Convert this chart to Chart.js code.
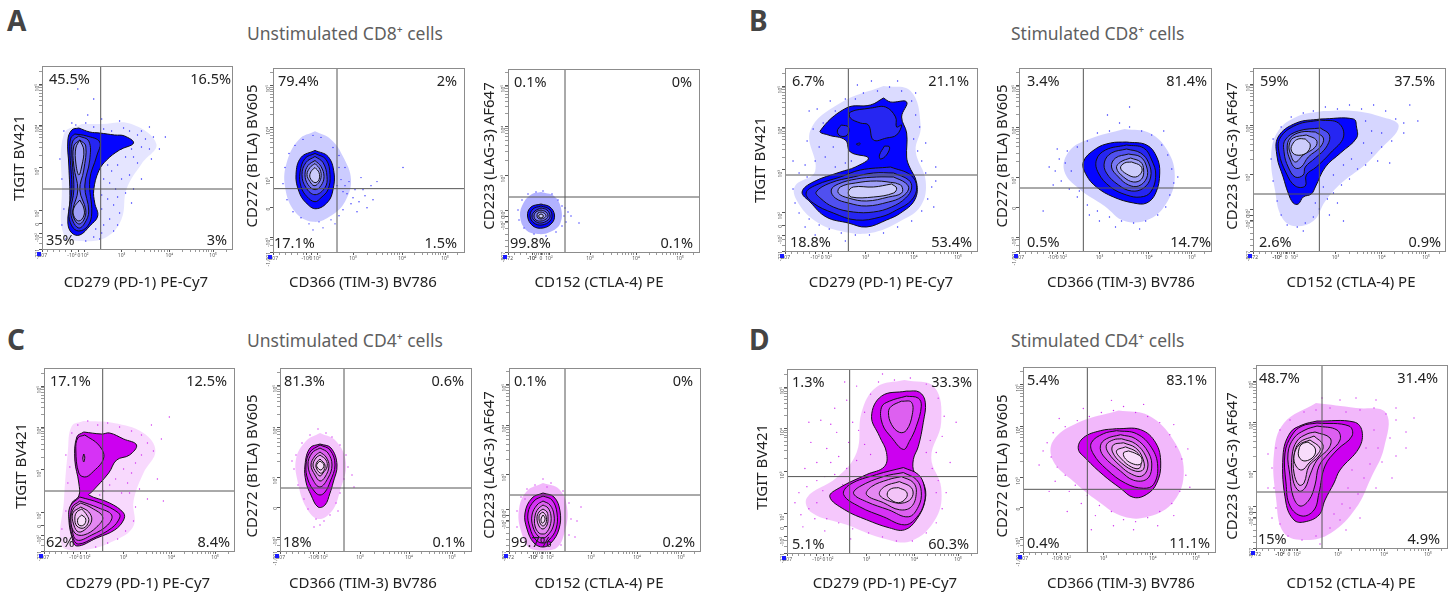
<!DOCTYPE html>
<html>
<head>
<meta charset="utf-8">
<title>Checkpoint receptor flow plots</title>
<script src="https://cdn.jsdelivr.net/npm/chart.js@4"></script>
<style>
  body { margin: 0; background: #fff; font-family: "Noto Sans", sans-serif; }
  canvas { position: absolute; }
  .letter { position: absolute; font-size: 28px; font-weight: 700; color: #444; line-height: 28px; }
  .group { position: absolute; font-size: 17.5px; color: #5f5f5f; line-height: 22px; white-space: nowrap; }
</style>
</head>
<body>
<div class="letter" style="left:7px;top:6px">A</div>
<div class="letter" style="left:749px;top:6px">B</div>
<div class="letter" style="left:7px;top:325px">C</div>
<div class="letter" style="left:749px;top:325px">D</div>
<div class="group" style="left:247px;top:22px">Unstimulated CD8⁺ cells</div>
<div class="group" style="left:1011px;top:22px">Stimulated CD8⁺ cells</div>
<div class="group" style="left:247px;top:329px">Unstimulated CD4⁺ cells</div>
<div class="group" style="left:1011px;top:329px">Stimulated CD4⁺ cells</div>
<script>
// All plot values are display channels (x 0-191, y 0-183),
// flat lists of x,y,x,y. Contours go outermost level first.
const X_MAX = 191;
const Y_MAX = 183;

const a1Contours = [
  [[37,121,48,117,58,116,73,114,83,113,92,106,78,99,65,89,57,78,52,59,53,46,56,33,48,23,38,14,30,16,26,26,28,49,27,83,26,109,30,119]],
  [[33,115,45,113,58,107,55,93,48,69,50,36,46,23,37,18,30,23,27,36,30,59,28,99,29,111]],
  [[37,113,47,108,48,89,43,63,47,38,43,26,37,21,31,28,29,39,32,59,30,96,31,108]],
  [[38,109,44,103,42,79,38,59,44,39,42,29,37,25,32,31,31,39,36,59,32,83,32,103]],
  [[38,109,42,99,40,83,37,74,34,86,34,101], [38,49,42,41,42,33,37,28,32,33,32,41]]
];
const a1Cloud = [40,125,60,125,90,125,115,105,100,85,85,60,80,30,65,12,40,8,22,14,20,60,22,115];
const a1Dots = [62,120,70,118,82,121,88,118,96,114,104,110,100,102,108,100,112,112,92,92,84,92,96,86,76,84,70,78,88,74,80,70,62,70,68,66,74,60,84,56,60,54,66,50,72,44,60,40,78,36,68,30,62,24,72,18,60,16,54,20,92,60,100,70,110,90,118,100,124,112,34,124,44,126,52,122,30,126,22,118,18,90,20,70,22,40,20,24,24,10,44,8,52,12,58,10,76,24,90,46,76,52,66,84,60,84,80,100,72,96,90,100,86,108,100,118,108,122,78,128,60,130,46,134,36,160,52,150];

const a2Contours = [
  [[42,101,55,95,61,79,60,62,55,50,43,43,33,49,26,60,23,77,28,94]],
  [[42,98,53,92,57,77,55,62,48,54,42,50,34,55,28,65,27,79,32,93]],
  [[42,95,50,89,54,75,52,64,42,57,33,64,29,77,33,89]],
  [[42,91,48,85,51,75,48,66,42,62,35,67,32,77,35,86]],
  [[42,88,47,82,48,74,45,68,41,66,37,70,34,77,37,84]],
  [[42,84,46,79,46,72,42,69,37,74,38,80]]
];
const a2Cloud = [42,120,58,112,70,95,78,72,72,50,58,36,40,30,22,40,12,65,14,90,26,112];
const a2Dots = [40,116,48,114,30,112,60,104,66,96,72,84,76,70,82,62,88,74,92,56,78,48,70,42,84,40,66,36,58,32,46,30,36,28,28,34,20,40,14,52,10,68,12,84,16,98,22,106,70,60,68,72,74,58,98,66,100,52,94,44,104,70,66,84,62,28,50,24,40,22,130,84,64,66,72,66,80,54,86,50,90,62];

const a3Contours = [
  [[33,48,42,45,46.5,37,44,29,35,24,25,26,19.5,36,23,45]],
  [[33,46,41,43,44,37,42,31,34,27,26,29,22,36,25,43]],
  [[33,44,39,42,42,36,40,32,33,29,27,31,24,36,27,41]],
  [[33,42,38,40,40,36,38,33,33,31,28,32,26,36,28,40]],
  [[33,40,36,39,38,36,36,34,33,33,30,34,29,36,30,39]],
  [[33,38,35,37,35,35,33,34,31,35,31,37]]
];
const a3Cloud = [33,60,46,56,53,44,52,28,42,20,30,18,18,22,12,36,16,50,24,58];
const a3Dots = [35,61,28,60,44,58,50,52,54,46,56,36,54,26,48,20,38,16,26,18,16,24,11,32,10,42,14,52,20,58,60,40,63,36,71,29,58,30,57,44];

const b1Contours = [
  [[98,153,105,149,121,149,116,134,121,118,121,94,123,86,131,68,129,51,115,38,101,31,81,24,63,28,41,34,25,49,17,59,28,69,55,79,70,84,83,93,65,99,60,111,43,116,35,120,61,143,85,146]],
  [[85,143,100,144,110,134,111,124,116,126,111,116,101,113,88,111,83,126,75,128,65,133,65,139],
   [56,126,63,124,62,116,55,115,52,120], [74,108,75,107,73,106,71,107], [99,105,104,104,101,96,95,92,94,96],
   [105,84,125,76,131,64,126,51,111,41,95,34,71,31,48,38,28,48,21,58,31,66,55,74,75,81]],
  [[108,78,123,71,126,63,120,53,106,44,88,39,68,39,48,44,35,53,31,59,45,68,68,74,88,78]],
  [[108,74,120,68,123,62,116,54,103,49,81,45,63,48,50,53,46,61,53,67,71,72,91,74]],
  [[110,68,116,65,116,58,103,54,81,50,63,53,53,58,55,64,70,68,91,70]],
  [[106,67,111,63,108,58,88,54,66,54,63,59,68,64,88,64]]
];
const b1Cloud = [98,165,125,160,135,125,130,100,140,70,135,45,115,30,85,18,55,20,30,30,12,50,10,65,30,80,25,120,55,148];
const b1Dots = [45,150,60,152,50,140,38,128,28,122,22,110,34,104,48,104,40,94,30,90,20,86,14,78,22,74,8,62,10,48,14,38,24,32,34,26,44,22,56,18,70,16,84,16,98,18,112,24,126,30,136,40,142,52,146,64,140,78,136,90,132,100,128,112,134,124,130,136,126,150,116,160,104,164,92,160,78,158,70,152,112,170,130,158,150,70,148,44,20,24,30,16,60,10,60,88,50,84,66,90,140,108,150,84,24,140,32,142,8,90,72,166,86,170];

const b2Contours = [
  [[107,109,127,106,137,94,140,78,136,58,127,48,114,48,94,54,77,64,67,76,64,89,76,102,91,108]],
  [[107,106,124,103,132,91,136,76,131,59,121,54,107,56,91,64,79,78,77,91,86,101]],
  [[107,102,121,98,129,88,131,74,124,63,112,60,99,66,87,78,85,89,92,98]],
  [[109,97,121,94,127,84,127,73,119,65,109,66,99,74,92,84,96,93]],
  [[111,93,121,89,124,81,122,72,114,69,104,74,97,83,101,89]],
  [[112,89,121,85,122,79,116,74,107,77,101,83,105,88]]
];
const b2Cloud = [105,122,130,118,148,100,155,75,148,50,130,32,105,30,85,45,60,62,45,80,50,100,70,112];
const b2Dots = [100,128,110,124,122,120,132,116,90,120,78,118,68,110,58,104,48,100,40,92,36,80,42,70,50,62,58,54,68,46,78,40,90,34,102,30,114,28,126,30,138,36,146,44,150,56,154,68,152,82,148,96,142,106,38,102,30,84,34,66,80,30,96,24,120,22,110,144,88,136,24,40,70,36,158,74,144,120,52,80,46,88,60,60];

const b3Contours = [
  [[67,132,100,132,103,124,103,113,87,98,72,84,62,64,58,57,50,54,45,47,40,48,35,58,30,74,24,94,25,114,43,128]],
  [[67,131,85,128,90,114,77,98,63,84,53,76,52,65,42,65,33,78,26,98,27,113,43,126]],
  [[67,123,76,116,73,104,62,93,52,84,50,76,42,74,35,84,31,98,32,111,45,120]],
  [[62,119,70,113,67,104,55,94,48,84,42,83,37,91,34,103,37,113,48,119]],
  [[53,116,63,111,62,104,50,96,42,89,37,98,36,106,40,113]],
  [[52,112,57,106,53,98,43,96,38,101,40,108,45,112]]
];
const b3Cloud = [70,140,100,140,125,135,145,125,125,100,110,85,88,68,72,50,60,30,40,25,28,35,22,60,18,95,25,120,45,135];
const b3Dots = [60,140,72,144,84,142,96,146,108,142,120,146,132,140,142,132,156,146,164,130,150,118,138,110,128,104,118,98,112,86,104,82,96,72,88,66,80,58,74,52,66,42,60,34,52,28,44,24,34,26,28,36,24,50,20,70,18,92,20,112,28,124,38,134,50,138,118,120,112,130,128,118,98,92,90,86,80,76,70,64,62,48,50,20,150,128,110,108,124,90,136,88,76,36,84,48,90,30];

const c1Contours = [
  [[40,119,58,117,66,118,80,112,93,106,86,96,73,91,65,78,48,59,45,56,66,48,80,38,80,31,71,21,53,13,33,5,28,14,25,34,28,48,35,55,35,68,31,91,33,114]],
  [[41,116,55,106,60,93,48,78,41,74,35,78,32,101,34,113], [36,54,56,48,75,38,76,33,68,23,50,13,35,7,30,11,26,28,26,44]],
  [[40,97,41,94,40,89,39,93], [36,50,55,43,68,36,64,26,48,16,33,11,28,24,28,43]],
  [[37,48,48,43,59,34,53,24,40,16,31,18,27,31,30,43]],
  [[37,44,45,39,48,31,43,23,35,19,30,26,29,38]],
  [[38,42,43,36,45,30,40,23,33,25,31,33,33,39]],
  [[38,36,42,32,40,26,35,26,34,32]]
];
const c1Cloud = [40,130,70,128,100,118,112,100,100,78,90,50,90,25,70,10,40,1,18,5,20,50,24,100,28,125];
const c1Dots = [34,126,44,130,54,126,64,128,76,124,88,120,98,116,104,108,110,100,118,112,126,134,108,126,98,96,92,88,88,78,80,82,72,72,66,66,58,70,56,56,78,58,86,58,96,62,104,52,92,44,90,30,82,20,74,12,64,8,52,4,22,40,18,22,24,68,26,84,22,96,28,118,84,68,60,60,114,72,120,50];

const c2Contours = [
  [[40,107,51,103,57,86,53,68,50,58,45,46,38,44,31,56,26,69,25,86,30,103]],
  [[40,106,50,101,55,86,50,69,45,59,40,56,35,59,28,71,26,86,30,99]],
  [[40,103,48,98,52,86,48,73,40,64,33,71,28,86,32,98]],
  [[40,99,46,94,49,85,45,74,40,70,35,76,31,86,35,95]],
  [[40,96,46,91,47,84,43,78,40,75,36,79,33,86,36,93]],
  [[40,92,45,86,43,79,40,78,36,84,37,89]],
  [[40,90,44,86,41,81,37,84,37,87]]
];
const c2Cloud = [40,118,56,110,66,88,60,60,52,40,38,32,26,44,18,68,16,92,26,110];
const c2Dots = [38,122,46,118,30,116,22,108,16,96,14,82,18,66,24,52,28,42,36,32,44,30,50,36,56,48,60,58,64,72,68,84,66,96,60,106,52,114,72,76,74,64,12,90,40,26,34,24,58,40];

const c3Contours = [
  [[34,58,45,54,51,40,50,22,42,8,34,4,25,8,18,22,16,38,23,53]],
  [[34,55,43,51,48,38,47,22,40,11,34,8,27,11,21,23,19,38,25,50]],
  [[34,50,41,46,45,36,44,24,38,15,34,13,29,15,24,24,23,36,28,46]],
  [[34,46,39,43,42,35,41,25,37,18,34,17,30,18,26,25,26,35,29,42]],
  [[34,42,38,39,39,33,38,26,34,22,30,25,28,33,30,39]],
  [[34,39,37,35,37,28,34,25,31,28,30,34,31,37]],
  [[34,36,36,33,35,29,33,28,32,32]]
];
const c3Cloud = [34,68,50,62,58,44,56,20,46,2,22,2,12,20,10,42,18,60];
const c3Dots = [34,72,42,68,26,66,18,62,54,60,60,48,62,32,60,16,52,6,12,54,8,40,8,24,12,10,68,30,72,44,66,14,38,64,16,52];

const d1Contours = [
  [[120,161,133,160,139,150,137,130,132,106,127,93,128,80,137,70,139,53,130,33,118,23,103,25,80,33,58,43,43,56,53,65,80,78,98,86,100,100,93,116,85,136,95,156]],
  [[120,156,132,154,135,146,130,126,123,111,117,103,105,115,96,128,95,145,103,151],
   [117,85,132,78,138,66,138,50,130,35,118,28,97,36,73,46,57,58,63,68,90,78]],
  [[115,151,125,150,126,138,120,122,113,120,105,128,102,140,105,146],
   [117,80,130,73,135,61,132,46,122,36,102,43,80,51,67,59,73,66,97,76]],
  [[115,76,127,70,130,60,125,46,113,43,97,50,80,58,85,66,102,73]],
  [[113,71,125,65,126,56,118,50,105,51,93,58,98,66]],
  [[112,65,120,61,120,55,112,50,102,55,101,60,105,64]]
];
const d1Cloud = [118,172,148,165,155,130,145,95,155,65,150,35,125,12,95,15,60,28,25,40,20,55,50,75,70,100,75,140,90,165];
const d1Dots = [30,50,22,44,14,38,12,60,20,66,30,72,36,62,28,34,40,34,52,30,66,24,82,20,96,16,110,12,126,12,140,20,150,30,156,44,160,60,152,72,146,84,150,100,156,116,158,136,152,154,140,168,124,174,108,172,92,170,84,158,78,140,72,122,78,108,84,98,70,92,60,84,48,78,62,110,50,120,40,104,30,90,24,110,34,132,48,144,60,152,70,166,18,84,52,96,66,130,140,100,144,112,150,60,164,90,170,130,8,50,16,26,38,22,64,14,38,76,44,90,56,68,44,128,22,130,58,170,96,178];

const d2Contours = [
  [[93,122,117,121,132,108,137,88,133,68,123,57,110,54,97,63,80,76,63,92,55,102,60,113,77,120]],
  [[93,120,113,117,128,103,134,85,130,67,120,63,102,68,83,82,70,97,68,108,80,117]],
  [[97,116,112,112,125,98,128,83,123,72,110,71,97,80,80,95,77,105,83,112]],
  [[98,112,112,107,122,95,124,83,118,75,108,77,97,85,85,98,83,106,90,111]],
  [[100,108,112,103,119,93,120,82,112,80,98,88,89,99,90,106]],
  [[102,104,113,99,117,92,116,83,108,84,98,92,93,100]],
  [[105,100,113,97,118,93,117,87,110,87,102,92,100,98]]
];
const d2Cloud = [95,140,125,135,150,110,160,80,150,50,125,35,100,35,75,50,50,70,30,90,30,110,55,128];
const d2Dots = [90,140,100,144,112,138,124,134,136,128,146,116,152,104,158,92,162,76,156,60,148,48,136,40,124,34,112,30,100,32,88,40,76,46,64,56,52,66,42,76,34,84,28,94,24,108,30,118,42,124,54,130,66,134,78,138,20,100,16,86,32,70,46,60,58,48,72,36,90,26,110,22,134,26,150,36,166,64,164,102,150,126,120,146,88,150,60,142,36,132,26,60,44,40,68,22];

const d3Contours = [
  [[61,127,98,126,106,117,103,100,84,78,78,65,69,48,63,33,48,26,38,28,30,45,27,92,34,115,46,123]],
  [[61,125,93,122,96,112,81,98,69,82,63,55,58,38,46,32,34,42,30,65,29,95,36,113,46,122]],
  [[61,122,81,118,84,108,73,95,63,82,59,63,53,48,44,42,37,52,34,72,32,95,38,110,49,118]],
  [[59,116,74,110,73,100,61,88,54,73,49,60,43,57,37,68,36,92,41,107,51,114]],
  [[58,112,67,103,63,92,53,82,48,65,43,63,38,75,38,92,43,105]],
  [[54,108,64,100,61,93,53,85,46,78,40,82,38,92,43,103]],
  [[52,106,59,100,58,92,49,87,43,91,43,99,46,104]]
];
const d3Cloud = [60,145,100,140,130,135,128,100,115,70,100,40,75,15,50,8,28,15,20,50,18,95,28,125];
const d3Dots = [60,138,74,140,90,136,104,138,118,140,130,134,140,128,150,116,134,110,122,100,114,84,108,70,102,54,94,40,84,28,74,20,60,12,46,8,32,12,24,24,20,40,18,60,16,80,20,100,24,118,34,128,48,136,66,150,84,148,100,150,120,148,140,140,118,118,126,86,140,92,120,60,104,30,90,18,64,4,136,70,150,100,158,130,92,60,86,44,78,34,110,100,96,78,16,30,12,60,12,94];

// Quadrant percentages: top left, top right, bottom left, bottom right
const a1Quads = ["45.5%", "16.5%", "35%", "3%"];
const a2Quads = ["79.4%", "2%", "17.1%", "1.5%"];
const a3Quads = ["0.1%", "0%", "99.8%", "0.1%"];
const b1Quads = ["6.7%", "21.1%", "18.8%", "53.4%"];
const b2Quads = ["3.4%", "81.4%", "0.5%", "14.7%"];
const b3Quads = ["59%", "37.5%", "2.6%", "0.9%"];
const c1Quads = ["17.1%", "12.5%", "62%", "8.4%"];
const c2Quads = ["81.3%", "0.6%", "18%", "0.1%"];
const c3Quads = ["0.1%", "0%", "99.7%", "0.2%"];
const d1Quads = ["1.3%", "33.3%", "5.1%", "60.3%"];
const d2Quads = ["5.4%", "83.1%", "0.4%", "11.1%"];
const d3Quads = ["48.7%", "31.4%", "15%", "4.9%"];

// Axis definitions: channel of each labelled tick, then the labels
const pd1Ticks = [0, 30, 37, 43, 80, 128, 172];
const pd1Labels = ["-807", "-10²", "0", "10²", "10³", "10⁴", "10⁵"];
const tim3Ticks = [0, 33, 38, 44, 80, 129, 172];
const tim3Labels = ["-807", "-10²", "0", "10²", "10³", "10⁴", "10⁵"];
const ctla4Ticks = [0, 24, 33, 41, 82, 128, 172];
const ctla4Labels = ["-472", "-10²", "0", "10²", "10³", "10⁴", "10⁵"];
const tigitTicks = [0, 16, 26, 39, 81, 124, 165];
const tigitLabels = ["-221", "-10²", "0", "10²", "10³", "10⁴", "10⁵"];
const btlaTicks = [0, 14, 44, 74, 124, 166];
const btlaLabels = ["-1,001", "-10³", "0", "10³", "10⁴", "10⁵"];
const lag3Ticks = [0, 31, 36, 42, 77, 126, 167];
const lag3Labels = ["-807", "-10²", "0", "10²", "10³", "10⁴", "10⁵"];

const BLUE = {
  levels: ["#0505ff", "#2626f2", "#5050f0", "#7878f2", "#a0a0f8", "#cdcdfb", "#dcdcfd"],
  dot: "#2a2aff",
  cloud: "0,0,255"
};
const MAGENTA = {
  levels: ["#cc00f0", "#d633f5", "#dd60f0", "#e488f2", "#eda8f5", "#f3c4f8", "#f8dcfb"],
  dot: "#d030f0",
  cloud: "210,0,240"
};

const PD1 = { ticks: pd1Ticks, labels: pd1Labels, title: "CD279 (PD-1) PE-Cy7" };
const TIM3 = { ticks: tim3Ticks, labels: tim3Labels, title: "CD366 (TIM-3) BV786" };
const CTLA4 = { ticks: ctla4Ticks, labels: ctla4Labels, title: "CD152 (CTLA-4) PE", dense: true };
const TIGIT = { ticks: tigitTicks, labels: tigitLabels, title: "TIGIT BV421" };
const BTLA = { ticks: btlaTicks, labels: btlaLabels, title: "CD272 (BTLA) BV605" };
const LAG3 = { ticks: lag3Ticks, labels: lag3Labels, title: "CD223 (LAG-3) AF647" };

// box: plot left, top, width, height on the page. inset: gap of each percentage from its side.
// xTitle: centre x, centre y of x title. yTitle: centre x, centre y of y title.
const panels = [
  { contours: a1Contours, cloud: a1Cloud, cloudAlpha: 0.1, dots: a1Dots, quads: a1Quads, x: PD1, y: TIGIT, gate: [59, 60], colors: BLUE, box: [42, 66, 190, 183], inset: [7, 1, 4, 5], xTitle: [136, 283], yTitle: [20, 158] },
  { contours: a2Contours, cloud: a2Cloud, cloudAlpha: 0.2, dots: a2Dots, quads: a2Quads, x: TIM3, y: BTLA, gate: [64, 63], colors: BLUE, box: [273, 68, 191, 184], inset: [5, 7, 1, 7], xTitle: [363, 283], yTitle: [253, 156] },
  { contours: a3Contours, cloud: a3Cloud, cloudAlpha: 0.3, dots: a3Dots, quads: a3Quads, x: CTLA4, y: LAG3, gate: [57, 55], colors: BLUE, box: [508, 69, 191, 183], inset: [6, 7, 2, 6], xTitle: [599, 283], yTitle: [490, 156] },
  { contours: b1Contours, cloud: b1Cloud, cloudAlpha: 0.14, dots: b1Dots, quads: b1Quads, x: PD1, y: TIGIT, gate: [63, 76], colors: BLUE, box: [785, 68, 192, 183], inset: [7, 8, 5, 5], xTitle: [881, 283], yTitle: [761, 160] },
  { contours: b2Contours, cloud: b2Cloud, cloudAlpha: 0.18, dots: b2Dots, quads: b2Quads, x: TIM3, y: BTLA, gate: [64, 63], colors: BLUE, box: [1019, 68, 192, 183], inset: [8, 4, 8, 0], xTitle: [1121, 283], yTitle: [1003, 156] },
  { contours: b3Contours, cloud: b3Cloud, cloudAlpha: 0.16, dots: b3Dots, quads: b3Quads, x: CTLA4, y: LAG3, gate: [66, 57], colors: BLUE, box: [1253, 68, 192, 183], inset: [7, 10, 6, 4], xTitle: [1351, 283], yTitle: [1233, 156] },
  { contours: c1Contours, cloud: c1Cloud, cloudAlpha: 0.15, dots: c1Dots, quads: c1Quads, x: PD1, y: TIGIT, gate: [59, 60], colors: MAGENTA, box: [44, 368, 190, 183], inset: [6, 7, 2, 4], xTitle: [138, 584], yTitle: [22, 466] },
  { contours: c2Contours, cloud: c2Cloud, cloudAlpha: 0.22, dots: c2Dots, quads: c2Quads, x: TIM3, y: BTLA, gate: [64, 63], colors: MAGENTA, box: [280, 368, 191, 183], inset: [4, 7, 3, 6], xTitle: [363, 584], yTitle: [253, 466] },
  { contours: c3Contours, cloud: c3Cloud, cloudAlpha: 0.28, dots: c3Dots, quads: c3Quads, x: CTLA4, y: LAG3, gate: [56, 56], colors: MAGENTA, box: [509, 368, 191, 183], inset: [5, 7, 2, 5], xTitle: [599, 584], yTitle: [490, 465] },
  { contours: d1Contours, cloud: d1Cloud, cloudAlpha: 0.22, dots: d1Dots, quads: d1Quads, x: PD1, y: TIGIT, gate: [63, 76], colors: MAGENTA, box: [787, 369, 190, 184], inset: [5, 5, 5, 8], xTitle: [885, 584], yTitle: [763, 467] },
  { contours: d2Contours, cloud: d2Cloud, cloudAlpha: 0.28, dots: d2Dots, quads: d2Quads, x: TIM3, y: BTLA, gate: [64, 62], colors: MAGENTA, box: [1023, 367, 192, 185], inset: [4, 8, 4, 5], xTitle: [1121, 584], yTitle: [1003, 466] },
  { contours: d3Contours, cloud: d3Cloud, cloudAlpha: 0.28, dots: d3Dots, quads: d3Quads, x: CTLA4, y: LAG3, gate: [66, 56], colors: MAGENTA, box: [1256, 365, 191, 183], inset: [3, 9, 2, 7], xTitle: [1351, 584], yTitle: [1233, 466] }
];

const PAD_LEFT = 40;
const PAD_TOP = 4;
const PAD_RIGHT = 4;
const PAD_BOTTOM = 46;

function toPoints(flat, close) {
  const points = [];
  for (let i = 0; i < flat.length; i += 2) {
    points.push({ x: flat[i], y: flat[i + 1] });
  }
  if (close) {
    points.push({ x: flat[0], y: flat[1] });
  }
  return points;
}

// labelled ticks plus the small unlabelled marks between them
function allTicks(axis, max) {
  const values = axis.ticks.slice();
  const tenSquaredOrZero = axis.ticks[1];
  for (let v = 6; v < tenSquaredOrZero; v += 6) {
    values.push(v);
  }
  if (axis.dense) {
    for (let v = axis.ticks[1]; v < axis.ticks[3]; v += 2) {
      values.push(v);
    }
  }
  const n = axis.ticks.length;
  const decade = axis.ticks[n - 1] - axis.ticks[n - 2];
  const starts = axis.ticks.slice(n - 3);
  starts.forEach((start, i) => {
    const width = i < 2 ? starts[i + 1] - start : decade;
    for (let k = 2; k < 10; k++) {
      const v = start + Math.log10(k) * width;
      if (v < max) values.push(v);
    }
  });
  return values;
}

function axisOptions(axis, max, isY) {
  const labelAt = new Map(axis.ticks.map((v, i) => [v, axis.labels[i]]));
  return {
    type: "linear",
    min: 0,
    max: max,
    afterBuildTicks: scale => {
      scale.ticks = allTicks(axis, max).map(value => ({ value }));
    },
    afterFit: scale => {
      if (isY) scale.width = PAD_LEFT;
      else scale.height = PAD_BOTTOM;
    },
    border: { display: false },
    grid: {
      drawOnChartArea: false,
      tickLength: 3,
      tickColor: "#555",
      tickWidth: ctx => (labelAt.has(ctx.tick.value) ? 1 : 0.6)
    },
    ticks: {
      autoSkip: false,
      minRotation: isY ? 90 : 0,
      maxRotation: isY ? 90 : 0,
      padding: 1,
      color: "#555",
      font: { size: 5, family: "Noto Sans" },
      callback: value => labelAt.get(value) || ""
    }
  };
}

function buildDatasets(panel) {
  const datasets = [
    {
      data: toPoints(panel.cloud, true),
      showLine: true,
      tension: 0.4,
      borderWidth: 0,
      pointRadius: 0,
      fill: "shape",
      backgroundColor: "rgba(" + panel.colors.cloud + "," + panel.cloudAlpha + ")",
      order: 300
    },
    {
      data: toPoints(panel.dots),
      pointRadius: 0.7,
      pointBorderWidth: 0,
      pointBackgroundColor: panel.colors.dot,
      order: 200
    }
  ];
  panel.contours.forEach((level, i) => {
    level.forEach(shape => {
      datasets.push({
        data: toPoints(shape, true),
        showLine: true,
        tension: 0.4,
        borderColor: "#111",
        borderWidth: 1,
        pointRadius: 0,
        fill: "shape",
        backgroundColor: panel.colors.levels[i],
        order: 100 - i
      });
    });
  });
  // quadrant gates
  [[panel.gate[0], 0, panel.gate[0], Y_MAX], [0, panel.gate[1], X_MAX, panel.gate[1]]].forEach(line => {
    datasets.push({
      data: toPoints(line),
      showLine: true,
      borderColor: "#555",
      borderWidth: 1,
      pointRadius: 0,
      order: 0
    });
  });
  return datasets;
}

// frame, FlowJo corner mark, quadrant percentages and axis titles
const panelText = {
  id: "panelText",
  afterDraw(chart, args, opts) {
    const { ctx, chartArea, scales } = chart;
    const panel = opts.panel;
    const originX = panel.box[0] - PAD_LEFT;
    const originY = panel.box[1] - PAD_TOP;
    ctx.save();

    ctx.strokeStyle = "#8c8c8c";
    ctx.lineWidth = 1;
    ctx.strokeRect(chartArea.left + 0.5, chartArea.top + 0.5, chartArea.width, chartArea.height);

    ctx.fillStyle = "#1a1aff";
    ctx.fillRect(chartArea.left - 5, chartArea.bottom + 3, 4, 4);

    ctx.fillStyle = "#222";
    ctx.font = '14.5px "Noto Sans"';
    ctx.textBaseline = "middle";
    const topY = scales.y.getPixelForValue(Y_MAX - 14);
    const bottomY = scales.y.getPixelForValue(8.5);
    const spots = [
      ["left", panel.inset[0], topY],
      ["right", X_MAX - panel.inset[1], topY],
      ["left", panel.inset[2], bottomY],
      ["right", X_MAX - panel.inset[3], bottomY]
    ];
    spots.forEach((spot, i) => {
      ctx.textAlign = spot[0];
      ctx.fillText(panel.quads[i], scales.x.getPixelForValue(spot[1]), spot[2]);
    });

    ctx.font = '15px "Noto Sans"';
    ctx.textAlign = "center";
    ctx.fillText(panel.x.title, panel.xTitle[0] - originX, panel.xTitle[1] - originY);
    ctx.translate(panel.yTitle[0] - originX, panel.yTitle[1] - originY);
    ctx.rotate(-Math.PI / 2);
    ctx.fillText(panel.y.title, 0, 0);
    ctx.restore();
  }
};

panels.forEach(panel => {
  const canvas = document.createElement("canvas");
  const width = panel.box[2] + PAD_LEFT + PAD_RIGHT;
  const height = panel.box[3] + PAD_TOP + PAD_BOTTOM;
  canvas.width = width;
  canvas.height = height;
  canvas.style.left = panel.box[0] - PAD_LEFT + "px";
  canvas.style.top = panel.box[1] - PAD_TOP + "px";
  canvas.style.width = width + "px";
  canvas.style.height = height + "px";
  document.body.appendChild(canvas);

  new Chart(canvas, {
    type: "scatter",
    data: { datasets: buildDatasets(panel) },
    plugins: [panelText],
    options: {
      responsive: false,
      animation: false,
      devicePixelRatio: 1,
      layout: { padding: { top: PAD_TOP, right: PAD_RIGHT } },
      scales: {
        x: axisOptions(panel.x, X_MAX, false),
        y: axisOptions(panel.y, Y_MAX, true)
      },
      plugins: {
        legend: { display: false },
        tooltip: { enabled: false },
        panelText: { panel }
      }
    }
  });
});
</script>
</body>
</html>
